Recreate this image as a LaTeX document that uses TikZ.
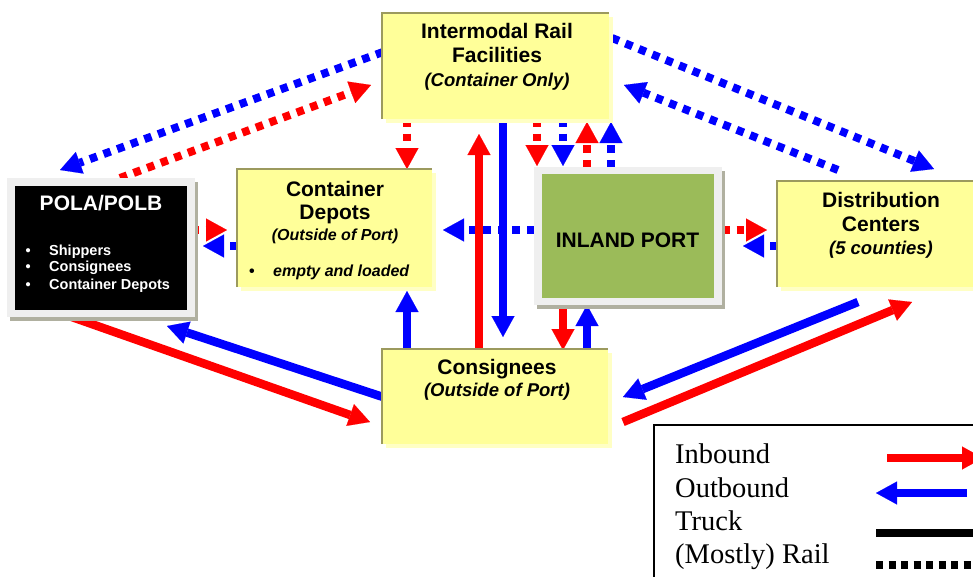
\documentclass[tikz,border=0pt]{standalone}
\usepackage{fontspec}
\setmainfont{Liberation Serif}
\newfontfamily\arialf{Liberation Sans}
\usetikzlibrary{arrows.meta,calc,shadows}

\definecolor{boxfill}{HTML}{FFFF99}
\definecolor{boxshade}{HTML}{FFFFC4}
\definecolor{boxedge}{HTML}{9C9A5E}
\definecolor{framegray}{HTML}{EFEFEF}
\definecolor{frameshade}{HTML}{B0B0A0}
\definecolor{portgreen}{HTML}{9BBB59}
\definecolor{inred}{HTML}{FF0000}
\definecolor{outblue}{HTML}{0000FF}

\pgfdeclarelayer{bg}
\pgfsetlayers{bg,main}

\begin{document}
\begin{tikzpicture}[x=1pt,y=-1pt,
  yellowbox/.style={fill=boxfill, inner sep=0pt, outer sep=0pt,
    drop shadow={shadow xshift=4pt, shadow yshift=-4pt, fill=boxshade, opacity=1}},
  framebox/.style={fill=framegray, inner sep=0pt, outer sep=0pt,
    drop shadow={shadow xshift=3pt, shadow yshift=-4pt, fill=frameshade, opacity=1}},
  edgeline/.style={draw=boxedge, line width=2pt},
  ttl/.style={font=\arialf\bfseries\fontsize{21}{25}\selectfont, anchor=base, inner sep=0pt},
  sub/.style={font=\arialf\bfseries\itshape\fontsize{18.5}{22}\selectfont, anchor=base, inner sep=0pt},
  smallsub/.style={font=\arialf\bfseries\itshape\fontsize{16}{19}\selectfont, anchor=base, inner sep=0pt},
  bul/.style={font=\arialf\bfseries\fontsize{14.5}{17}\selectfont, anchor=base west, inner sep=0pt, text=white},
  legtxt/.style={font=\fontsize{28.5}{33}\selectfont, anchor=base west, inner sep=0pt},
  headtip/.style={-{Triangle[length=21pt,width=23pt,line width=0.1pt]}},
  truck/.style={line width=8.5pt, headtip},
  rail/.style={line width=8pt, dash pattern=on 7.5pt off 7pt, headtip},
  inb/.style={draw=inred},
  outb/.style={draw=outblue}
]
\useasboundingbox (0,0) rectangle (973,576);
\clip (0,0) rectangle (973,576);

% ---------- boxes ----------
\node[yellowbox, minimum width=227pt, minimum height=106pt] (ir) at (495.5,66) {};
\draw[edgeline] (ir.south west) -- (ir.north west) -- (ir.north east);
\node[ttl] (ir1) at (497,38.5) {Intermodal Rail};
\node[ttl] (ir2) at (497,62.5) {Facilities};
\node[sub] (ir3) at (497,86) {(Container Only)};

\node[yellowbox, minimum width=195pt, minimum height=118pt] (dep) at (334.5,228) {};
\draw[edgeline] (dep.south west) -- (dep.north west) -- (dep.north east);
\node[ttl] (dep1) at (335,196) {Container};
\node[ttl] (dep2) at (335,219.3) {Depots};
\node[smallsub] (dep3) at (335,240.7) {(Outside of Port)};
\node[smallsub, anchor=base west] (dep4) at (249,276.7) {\makebox[24pt][l]{\upshape\textbullet}empty and loaded};

\node[framebox, minimum width=188pt, minimum height=139pt] (pola) at (101,247.5) {};
\fill[black] ($(pola.north west)+(8,8)$) rectangle ($(pola.south east)+(-8,-7)$);
\node[ttl, text=white] (pola1) at (101,210.7) {POLA/POLB};
\node[bul] (pola2) at (25.5,255) {\makebox[23.5pt][l]{\textbullet}Shippers};
\node[bul] (pola3) at (25.5,271.7) {\makebox[23.5pt][l]{\textbullet}Consignees};
\node[bul] (pola4) at (25.5,289.3) {\makebox[23.5pt][l]{\textbullet}Container Depots};

\node[framebox, minimum width=188pt, minimum height=138pt] (ip) at (628,236) {};
\fill[portgreen] ($(ip.north west)+(8,7)$) rectangle ($(ip.south east)+(-8,-7)$);
\node[ttl] (ip1) at (627.5,247.7) {INLAND PORT};

\node[yellowbox, minimum width=213pt, minimum height=106pt] (dc) at (883.5,234) {};
\draw[edgeline] (dc.south west) -- (dc.north west) -- (dc.north east);
\node[ttl] (dc1) at (881,207.3) {Distribution};
\node[ttl] (dc2) at (881,231) {Centers};
\node[sub] (dc3) at (881,254) {(5 counties)};

\node[yellowbox, minimum width=226pt, minimum height=95pt] (con) at (495,396.5) {};
\draw[edgeline] (con.south west) -- (con.north west) -- (con.north east);
\node[ttl] (con1) at (497,374.3) {Consignees};
\node[sub] (con2) at (497,396) {(Outside of Port)};

% ---------- flows ----------
\begin{pgfonlayer}{bg}
% rail to and from the intermodal yard
\draw[rail, outb] ($(ir.north west)+(1,39)$) -- ($(pola.north west)+(53,-8)$);
\draw[rail, inb] ($(pola.north west)+(113,0)$) -- ($(ir.north west)+(-11,72)$);
\draw[rail, outb] ($(ir.north east)+(3,25)$) -- ($(dc.north west)+(157,-12)$);
\draw[rail, outb] ($(dc.north west)+(61,-11)$) -- ($(ir.north east)+(15,72)$);
\draw[rail, inb] (407,0 |- ir.south) -- (407,0 |- dep.north);
\draw[rail, inb] (537,0 |- ir.south) -- ($(537,0 |- ip.north)+(0,-1)$);
\draw[rail, outb] (563,0 |- ir.south) -- ($(563,0 |- ip.north)+(0,-1)$);
\draw[rail, inb] (587,0 |- ip.north) -- ($(587,0 |- ir.south)+(0,3)$);
\draw[rail, outb] (611,0 |- ip.north) -- ($(611,0 |- ir.south)+(0,3)$);
% rail along the middle row
\draw[rail, inb] ($(pola.east |- 0,230)+(-4,0)$) -- ($(dep.west |- 0,230)+(-10,0)$);
\draw[rail, outb] (dep.west |- 0,246) -- ($(pola.east |- 0,246)+(8,0)$);
\draw[rail, outb] (ip.west |- 0,230) -- ($(dep.east |- 0,230)+(11,0)$);
\draw[rail, inb] (ip.east |- 0,230) -- ($(dc.west |- 0,230)+(-10,0)$);
\draw[rail, outb] (dc.west |- 0,246) -- ($(ip.east |- 0,246)+(21,0)$);
% truck moves
\draw[truck, inb] (479,0 |- con.north) -- ($(479,0 |- ir.south)+(0,15)$);
\draw[truck, outb] (503,0 |- ir.south) -- ($(503,0 |- con.north)+(0,-12)$);
\draw[truck, outb] (407,0 |- con.north) -- ($(407,0 |- dep.south)+(0,4)$);
\draw[truck, inb] (563,0 |- ip.south) -- ($(563,0 |- con.north)+(0,1)$);
\draw[truck, outb] (587,0 |- con.north) -- (587,0 |- ip.south);
\draw[truck, inb] ($(pola.south west)+(62,-1)$) -- ($(con.west)+(-12,25.5)$);
\draw[truck, outb] ($(con.west)+(1,0.5)$) -- ($(pola.south east)+(-28,9)$);
\draw[truck, outb] ($(dc.south west)+(81,15)$) -- ($(con.east)+(15,0.5)$);
\draw[truck, inb] ($(con.east)+(15,25.5)$) -- ($(dc.south west)+(135,15)$);
\end{pgfonlayer}

% ---------- key ----------
\node[draw=black, line width=1.5pt, minimum width=336pt, minimum height=165pt, inner sep=0pt] (leg) at (822,507.5) {};
\node[legtxt] (kIn) at (675,463) {Inbound};
\node[legtxt] (kOut) at (675,497) {Outbound};
\node[legtxt] (kTr) at (675,530) {Truck};
\node[legtxt] (kRl) at (675,563) {(Mostly) Rail};
\coordinate (kInA) at (887,458);  \coordinate (kInB) at (983,458);
\coordinate (kOutA) at (967,493); \coordinate (kOutB) at (876,493);
\coordinate (kTrA) at (876,533);  \coordinate (kTrB) at (980,533);
\coordinate (kRlA) at (876,565);  \coordinate (kRlB) at (980,565);
\draw[truck, inb] (kInA) -- (kInB);
\draw[truck, outb] (kOutA) -- (kOutB);
\draw[line width=8pt, black] (kTrA) -- (kTrB);
\draw[line width=8pt, black, dash pattern=on 7pt off 5.5pt] (kRlA) -- (kRlB);
\end{tikzpicture}
\end{document}
